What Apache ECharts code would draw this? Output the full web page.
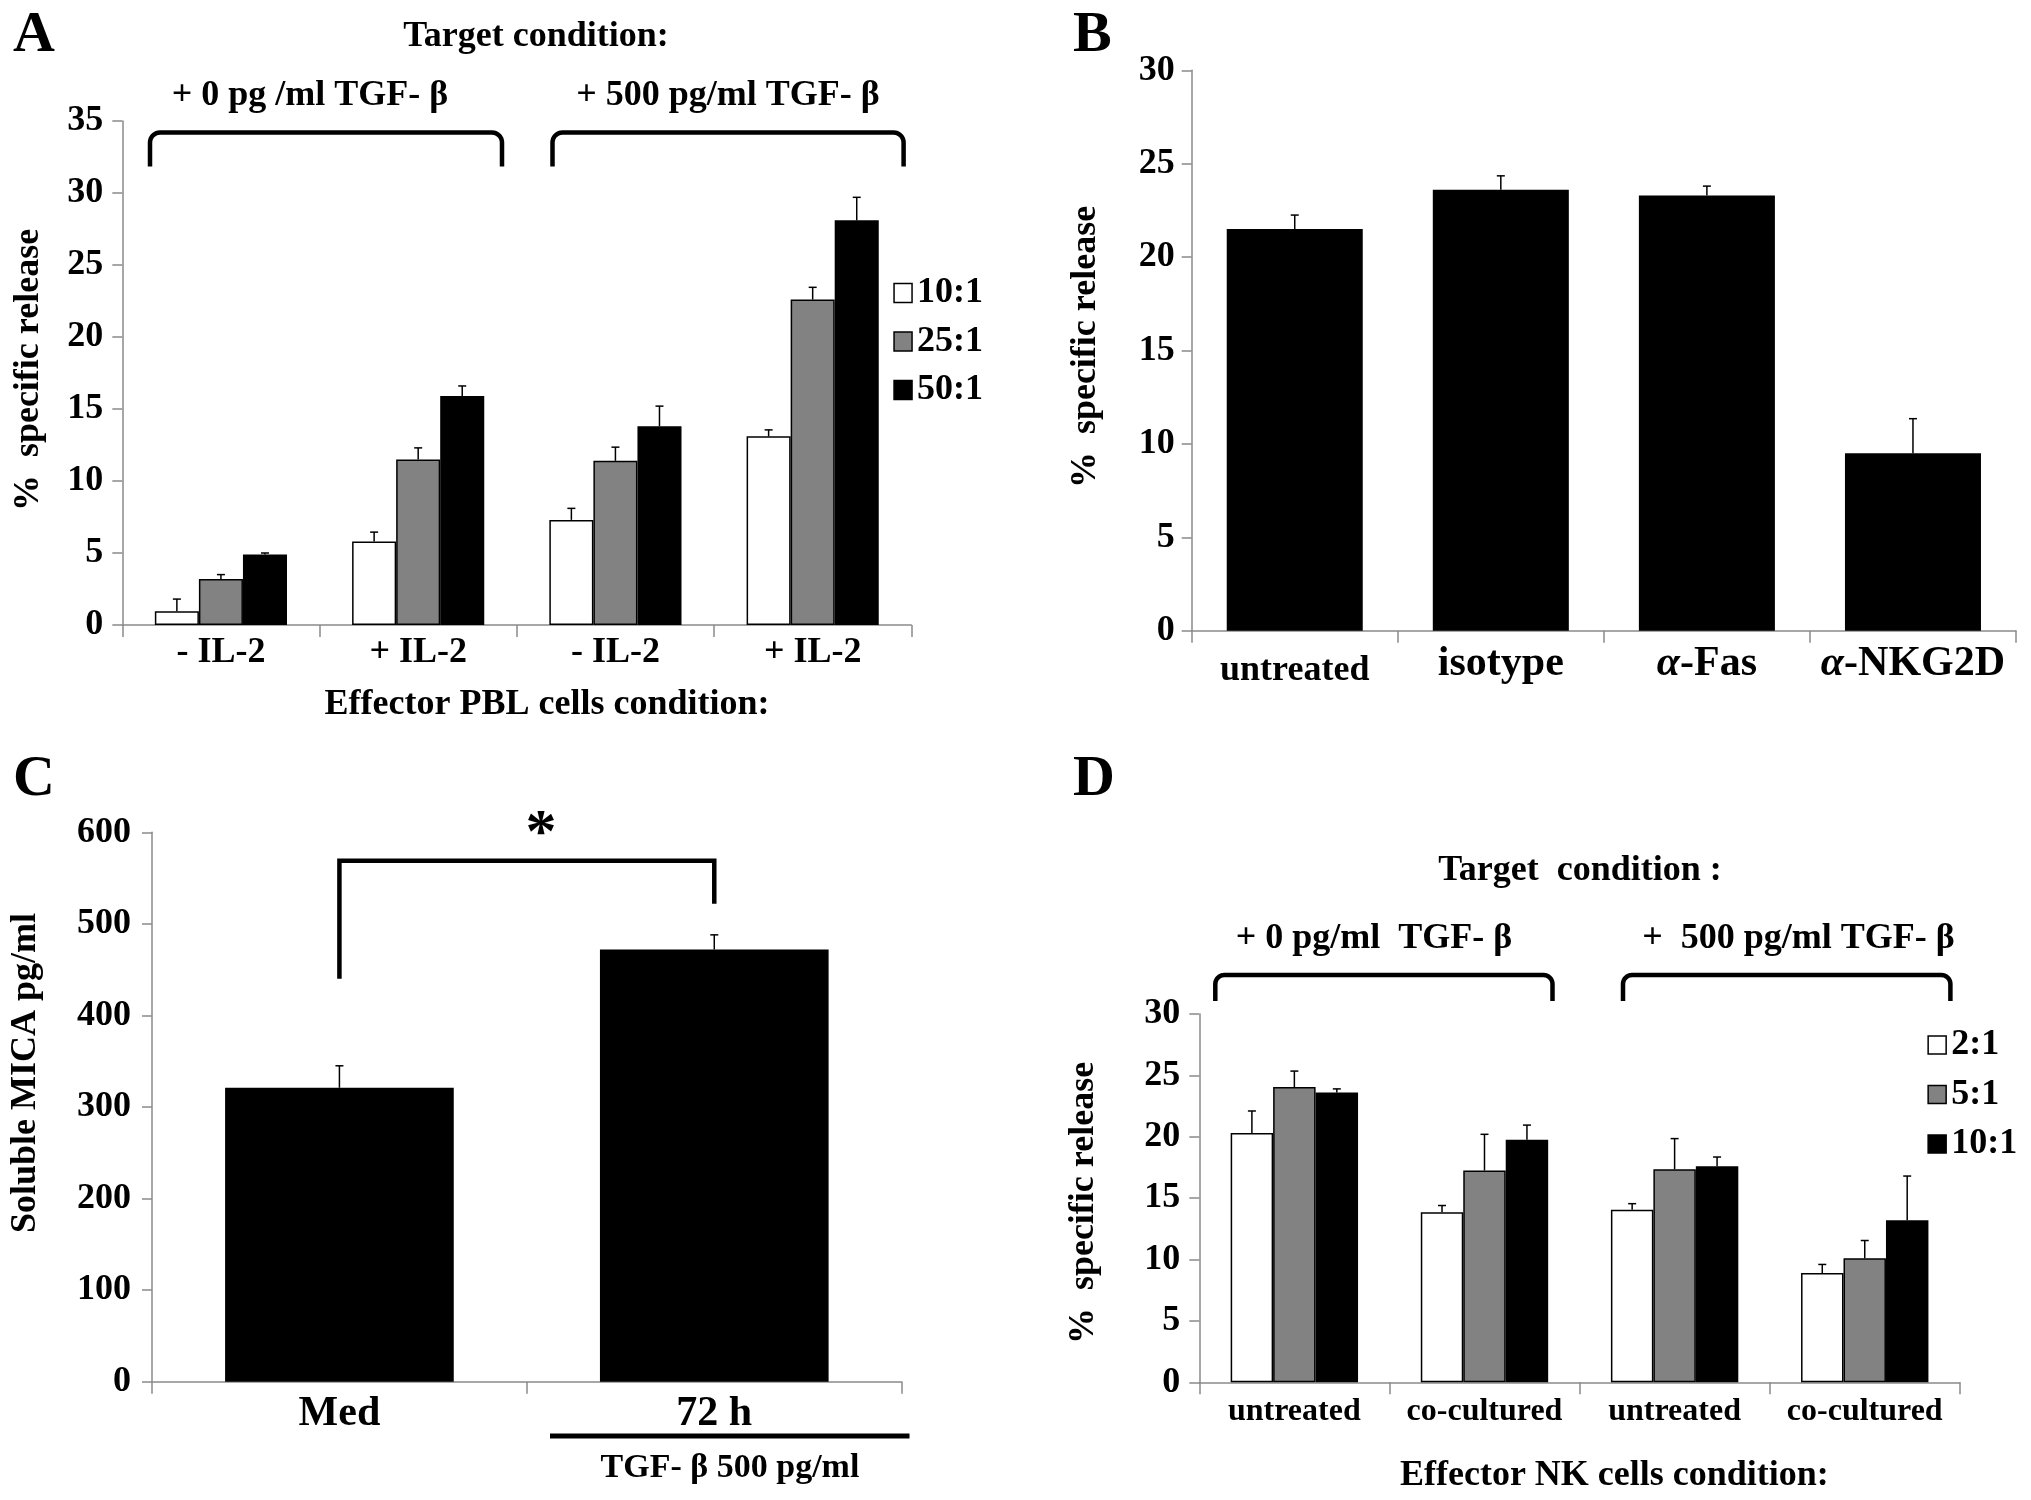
<!DOCTYPE html>
<html><head><meta charset="utf-8">
<script src="https://cdn.jsdelivr.net/npm/echarts@6/dist/echarts.min.js"></script>
<style>html,body{margin:0;padding:0;background:#fff;overflow:hidden}#c{width:2031px;height:1500px}</style>
</head><body><div id="c"></div>
<script>
// ---------- Panel A ----------
const aCategories = ['- IL-2', '+ IL-2', '- IL-2', '+ IL-2'];
const aNames = ['10:1', '25:1', '50:1'];
const a10 = [0.95, 5.8, 7.3, 13.1];
const a25 = [3.2, 11.5, 11.4, 22.6];
const a50 = [4.9, 15.9, 13.8, 28.1];
const a10Err = [1.8, 6.45, 8.1, 13.55];
const a25Err = [3.5, 12.3, 12.35, 23.45];
const a50Err = [5.0, 16.6, 15.2, 29.7];
const aAxis = [0, 35, 5];
// ---------- Panel B ----------
const bCategories = ['untreated', 'isotype', 'α-Fas', 'α-NKG2D'];
const bValues = [21.5, 23.6, 23.3, 9.5];
const bErr = [22.25, 24.35, 23.8, 11.35];
const bAxis = [0, 30, 5];
// ---------- Panel C ----------
const cCategories = ['Med', '72 h'];
const cValues = [321, 472];
const cErr = [345, 488];
const cSig = [440, 569, 522];
const cAxis = [0, 600, 100];
// ---------- Panel D ----------
const dCategories = ['untreated', 'co-cultured', 'untreated', 'co-cultured'];
const dNames = ['2:1', '5:1', '10:1 '];
const d2 = [20.3, 13.85, 14.05, 8.9];
const d5 = [24.05, 17.25, 17.35, 10.1];
const d10 = [23.6, 19.75, 17.6, 13.2];
const d2Err = [22.1, 14.4, 14.55, 9.6];
const d5Err = [25.35, 20.2, 19.85, 11.55];
const d10Err = [23.9, 20.95, 18.35, 16.8];
const dAxis = [0, 30, 5];

const FF = "'Liberation Serif','Times New Roman',serif";
const AX = '#8a8a8a';
const GRAY = '#828282';

function xAx(i, data, size, margin, extra) {
  return Object.assign({
    gridIndex: i, type: 'category', data: data,
    axisLine: {show: true, lineStyle: {color: AX, width: 1.5}},
    axisTick: {show: true, length: 12, lineStyle: {color: AX, width: 1.5}},
    axisLabel: {interval: 0, margin: margin, fontSize: size, fontFamily: FF, fontWeight: 'bold', color: '#000'},
    splitLine: {show: false}
  }, extra || {});
}
function yAx(i, ax, margin) {
  return {
    gridIndex: i, type: 'value', min: ax[0], max: ax[1], interval: ax[2],
    axisLine: {show: true, lineStyle: {color: AX, width: 1.5}},
    axisTick: {show: true, length: 10, lineStyle: {color: AX, width: 1.5}},
    axisLabel: {margin: margin, fontSize: 36, fontFamily: FF, fontWeight: 'bold', color: '#000'},
    splitLine: {show: false}
  };
}
function bar(i, name, vals, color, gap) {
  return {
    type: 'bar', name: name, xAxisIndex: i, yAxisIndex: i, data: vals,
    barGap: '0%', barCategoryGap: gap, silent: true,
    itemStyle: {color: color, borderColor: '#000', borderWidth: 1.5}
  };
}
function errSeries(i, vals, errs, idx, n, gap) {
  return {
    type: 'custom', xAxisIndex: i, yAxisIndex: i, z: 5, silent: true,
    data: vals.map((v, k) => [k, v, errs[k]]),
    renderItem: function (params, api) {
      const ci = api.value(0), v = api.value(1), e = api.value(2);
      const p0 = api.coord([ci, v]), p1 = api.coord([ci, e]);
      const bw = api.size([1, 0])[0] * (1 - gap) / n;
      const x = p0[0] + (idx - (n - 1) / 2) * bw;
      return {type: 'group', children: [
        {type: 'line', shape: {x1: x, y1: p0[1], x2: x, y2: p1[1]}, style: {stroke: '#000', lineWidth: 1.5}},
        {type: 'line', shape: {x1: x - 4, y1: p1[1], x2: x + 4, y2: p1[1]}, style: {stroke: '#000', lineWidth: 1.5}}
      ]};
    }
  };
}
function txt(text, x, y, size, align) {
  return {type: 'text', x: x, y: y, silent: true,
    style: {text: text, fontSize: size, fontFamily: FF, fontWeight: 'bold', fill: '#000', align: align || 'center', verticalAlign: 'middle'}};
}
function vtxt(text, x, y, size) {
  const t = txt(text, x, y, size);
  t.rotation = Math.PI / 2;
  return t;
}
function bracket(x1, x2, yt, yb, r) {
  const pts = [[x1, yb]];
  for (let k = 0; k <= 8; k++) {
    const th = Math.PI + k * Math.PI / 16;
    pts.push([x1 + r + r * Math.cos(th), yt + r + r * Math.sin(th)]);
  }
  for (let k = 0; k <= 8; k++) {
    const th = 1.5 * Math.PI + k * Math.PI / 16;
    pts.push([x2 - r + r * Math.cos(th), yt + r + r * Math.sin(th)]);
  }
  pts.push([x2, yb]);
  return {type: 'polyline', silent: true, shape: {points: pts}, style: {stroke: '#000', lineWidth: 4.5, fill: null, lineJoin: 'round'}};
}
const legendText = {fontSize: 36, fontFamily: FF, fontWeight: 'bold', color: '#000'};

const bLabelFmt = function (v) {
  if (v.charAt(0) === 'α') return '{i|α}{b|' + v.slice(1) + '}';
  if (v === 'untreated') return '{u|' + v + '}';
  return '{b|' + v + '}';
};

const option = {
  animation: false,
  backgroundColor: '#fff',
  grid: [
    {left: 122.3, top: 121, width: 789, height: 504, outerBoundsMode: 'none'},
    {left: 1191.7, top: 70.3, width: 824.3, height: 560.4, outerBoundsMode: 'none'},
    {left: 152, top: 832.3, width: 749.7, height: 549.4, outerBoundsMode: 'none'},
    {left: 1199.3, top: 1014, width: 760.5, height: 368.3, outerBoundsMode: 'none'}
  ],
  xAxis: [
    xAx(0, aCategories, 36, 10),
    xAx(1, bCategories, 36, 12, {axisLabel: {interval: 0, margin: 12, fontFamily: FF, fontWeight: 'bold', color: '#000', formatter: bLabelFmt,
      rich: {
        u: {fontSize: 36, fontFamily: FF, fontWeight: 'bold', color: '#000', padding: [10, 0, 0, 0]},
        b: {fontSize: 42, fontFamily: FF, fontWeight: 'bold', color: '#000'},
        i: {fontSize: 42, fontFamily: FF, fontWeight: 'bold', fontStyle: 'italic', color: '#000'}
      }}}),
    xAx(2, cCategories, 42, 11),
    xAx(3, dCategories, 32, 13)
  ],
  yAxis: [yAx(0, aAxis, 19), yAx(1, bAxis, 17), yAx(2, cAxis, 21), yAx(3, dAxis, 19)],
  legend: [
    {data: aNames, left: 893.3, top: 275, orient: 'vertical', padding: 0, itemWidth: 18, itemHeight: 19, itemGap: 12.5,
      icon: 'rect', selectedMode: false, itemStyle: {borderColor: '#000', borderWidth: 1.5}, textStyle: legendText},
    {data: dNames, left: 1927.4, top: 1027, orient: 'vertical', padding: 0, itemWidth: 18, itemHeight: 18, itemGap: 13.5,
      icon: 'rect', selectedMode: false, itemStyle: {borderColor: '#000', borderWidth: 1.5}, textStyle: legendText}
  ],
  series: [
    bar(0, aNames[0], a10, '#fff', '33%'),
    bar(0, aNames[1], a25, GRAY, '33%'),
    bar(0, aNames[2], a50, '#000', '33%'),
    errSeries(0, a10, a10Err, 0, 3, 0.33),
    errSeries(0, a25, a25Err, 1, 3, 0.33),
    errSeries(0, a50, a50Err, 2, 3, 0.33),
    bar(1, 'B', bValues, '#000', '34%'),
    errSeries(1, bValues, bErr, 0, 1, 0.34),
    bar(2, 'C', cValues, '#000', '39%'),
    errSeries(2, cValues, cErr, 0, 1, 0.39),
    {
      type: 'custom', xAxisIndex: 2, yAxisIndex: 2, silent: true, z: 6,
      data: [[0, cSig[0], cSig[1], 1, cSig[2]]],
      renderItem: function (params, api) {
        const a = api.coord([api.value(0), api.value(1)]);
        const b = api.coord([api.value(0), api.value(2)]);
        const c = api.coord([api.value(3), api.value(2)]);
        const d = api.coord([api.value(3), api.value(4)]);
        return {type: 'polyline', shape: {points: [a, b, c, d]}, style: {stroke: '#000', lineWidth: 4.5, fill: null}};
      }
    },
    bar(3, dNames[0], d2, '#fff', '33%'),
    bar(3, dNames[1], d5, GRAY, '33%'),
    bar(3, dNames[2], d10, '#000', '33%'),
    errSeries(3, d2, d2Err, 0, 3, 0.33),
    errSeries(3, d5, d5Err, 1, 3, 0.33),
    errSeries(3, d10, d10Err, 2, 3, 0.33)
  ],
  graphic: [
    txt('A', 13, 36, 58, 'left'),
    txt('B', 1073, 36, 58, 'left'),
    txt('C', 13, 780, 58, 'left'),
    txt('D', 1073, 780, 58, 'left'),
    // Panel A annotations
    txt('Target condition:', 536, 37, 36),
    txt('+ 0 pg /ml TGF- β', 310, 96, 36),
    txt('+ 500 pg/ml TGF- β', 728, 96, 36),
    bracket(150, 502, 132.5, 166.6, 10),
    bracket(552.5, 903.6, 132.5, 166.6, 10),
    txt('Effector PBL cells condition:', 547, 705, 36),
    vtxt('%  specific release', 29, 370, 36),
    // Panel B
    vtxt('%  specific release', 1086, 347, 36),
    // Panel C
    vtxt('Soluble MICA pg/ml', 26, 1073, 36),
    txt('*', 541, 835, 62),
    {type: 'line', silent: true, shape: {x1: 550, y1: 1436, x2: 909.5, y2: 1436}, style: {stroke: '#000', lineWidth: 5}},
    txt('TGF- β 500 pg/ml', 730, 1468, 34),
    // Panel D
    txt('Target  condition :', 1580, 871, 36),
    txt('+ 0 pg/ml  TGF- β', 1374, 939, 36),
    txt('+  500 pg/ml TGF- β', 1798.5, 939, 36),
    bracket(1215.3, 1552.5, 975, 1001, 9),
    bracket(1623, 1950.4, 975, 1001, 9),
    txt('Effector NK cells condition:', 1614.4, 1476, 36),
    vtxt('%  specific release', 1084, 1203, 36)
  ]
};
const chart = echarts.init(document.getElementById('c'), null, {width: 2031, height: 1500});
chart.setOption(option);
</script></body></html>
